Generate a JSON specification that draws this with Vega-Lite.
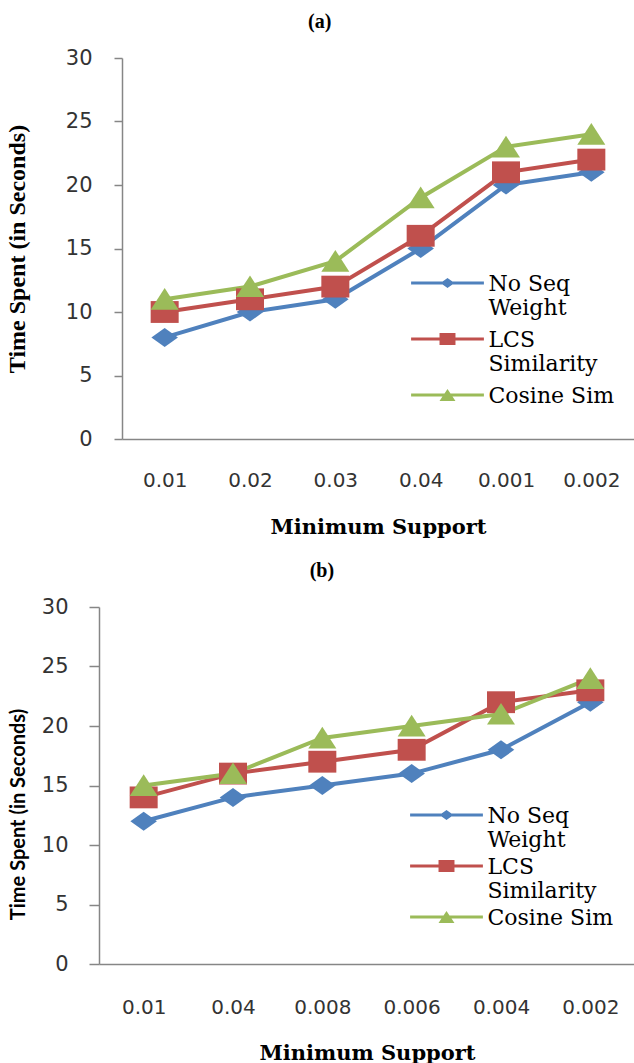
{
  "$schema": "https://vega.github.io/schema/vega-lite/v6.json",
  "padding": {"left": 4, "top": 12, "right": 0, "bottom": 0},
  "background": "white",
  "spacing": 24,
  "config": {
    "view": {"stroke": null},
    "axis": {"grid": false, "domainColor": "#868686", "tickColor": "#868686", "domainWidth": 1.5, "tickWidth": 1.5, "labelColor": "#333333", "titleColor": "#000000"},
    "title": {"font": "Liberation Serif", "fontSize": 20, "fontWeight": "bold", "color": "#000000", "anchor": "middle", "frame": "bounds"}
  },
  "vconcat": [
    {"spacing": 0, "hconcat": [
    {"width": 1, "height": 1, "data": {"values": []}, "mark": {"type": "point", "opacity": 0}, "encoding": {}},
    {
      "title": {"text": "(a)", "offset": 15, "frame": "bounds"},
      "width": 512,
      "height": 381,
      "data": {"values": [
        {"ms": "0.01", "s": "No Seq Weight", "t": 8},
        {"ms": "0.02", "s": "No Seq Weight", "t": 10},
        {"ms": "0.03", "s": "No Seq Weight", "t": 11},
        {"ms": "0.04", "s": "No Seq Weight", "t": 15},
        {"ms": "0.001", "s": "No Seq Weight", "t": 20},
        {"ms": "0.002", "s": "No Seq Weight", "t": 21},
        {"ms": "0.01", "s": "LCS Similarity", "t": 10},
        {"ms": "0.02", "s": "LCS Similarity", "t": 11},
        {"ms": "0.03", "s": "LCS Similarity", "t": 12},
        {"ms": "0.04", "s": "LCS Similarity", "t": 16},
        {"ms": "0.001", "s": "LCS Similarity", "t": 21},
        {"ms": "0.002", "s": "LCS Similarity", "t": 22},
        {"ms": "0.01", "s": "Cosine Sim", "t": 11},
        {"ms": "0.02", "s": "Cosine Sim", "t": 12},
        {"ms": "0.03", "s": "Cosine Sim", "t": 14},
        {"ms": "0.04", "s": "Cosine Sim", "t": 19},
        {"ms": "0.001", "s": "Cosine Sim", "t": 23},
        {"ms": "0.002", "s": "Cosine Sim", "t": 24}
      ]},
      "encoding": {
        "x": {"field": "ms", "type": "nominal",
              "scale": {"type": "point", "padding": 0.5, "domain": ["0.01", "0.02", "0.03", "0.04", "0.001", "0.002"]},
              "axis": {"title": "Minimum Support", "labelAngle": 0, "ticks": false, "labelPadding": 31, "labelFont": "DejaVu Sans", "labelFontSize": 20, "titleFont": "DejaVu Serif", "titleFontSize": 21, "titleFontWeight": "bold", "titlePadding": 26}},
        "y": {"field": "t", "type": "quantitative",
              "scale": {"domain": [0, 30], "nice": false},
              "axis": {"title": "Time Spent (in Seconds)", "values": [0, 5, 10, 15, 20, 25, 30], "tickSize": 8, "labelPadding": 22, "labelFont": "DejaVu Sans", "labelFontSize": 21, "titleFont": "Liberation Serif", "titleFontSize": 24, "titleFontWeight": "bold", "titlePadding": 36}}
      },
      "resolve": {"scale": {"color": "independent", "shape": "independent"}},
      "layer": [
        {
          "mark": {"type": "line", "strokeWidth": 4},
          "encoding": {
            "color": {"field": "s", "type": "nominal", "legend": null,
                      "scale": {"domain": ["No Seq Weight", "LCS Similarity", "Cosine Sim"], "range": ["#4F81BD", "#C0504D", "#9BBB59"]}}
          }
        },
        {
          "mark": {"type": "point", "filled": true, "opacity": 1, "size": 784},
          "encoding": {
            "color": {"field": "s", "type": "nominal", "legend": null,
                      "scale": {"domain": ["No Seq Weight", "LCS Similarity", "Cosine Sim"], "range": ["#4F81BD", "#C0504D", "#9BBB59"]}},
            "shape": {"field": "s", "type": "nominal", "legend": null,
                      "scale": {"domain": ["No Seq Weight", "LCS Similarity", "Cosine Sim"],
                                "range": ["M-0.95,0L0,-0.68L0.95,0L0,0.68Z", "M-1,-0.78H1V0.78H-1Z", "M0,-0.8L1,0.75L-1,0.75Z"]}}
          }
        },
        {
          "transform": [{"filter": "datum.t > 100"}],
          "mark": {"type": "point", "filled": true, "opacity": 1, "size": 784},
          "encoding": {
            "color": {"field": "s", "type": "nominal",
                      "scale": {"domain": ["No Seq Weight", "LCS Similarity", "Cosine Sim"], "range": ["#4F81BD", "#C0504D", "#9BBB59"]},
                      "legend": {"title": null, "orient": "none", "legendX": 288, "legendY": 218, "padding": 0,
                                 "symbolSize": 784, "symbolOffset": 22.5, "labelOffset": 26, "rowPadding": 10,
                                 "labelFont": "DejaVu Serif", "labelFontSize": 22, "labelColor": "#000000", "labelLimit": 300,
                                 "labelBaseline": "alphabetic",
                                 "labelExpr": "datum.label == 'No Seq Weight' ? ['No Seq', 'Weight'] : datum.label == 'LCS Similarity' ? ['LCS', 'Similarity'] : datum.label"}},
            "shape": {"field": "s", "type": "nominal",
                      "scale": {"domain": ["No Seq Weight", "LCS Similarity", "Cosine Sim"],
                                "range": ["M-2.6,-0.68H2.6V-0.46H-2.6Z M0,-0.93L0.5,-0.57L0,-0.21L-0.5,-0.57Z", "M-2.6,-0.68H2.6V-0.46H-2.6Z M-0.57,-1H0.57V-0.14H-0.57Z", "M-2.6,-0.68H2.6V-0.46H-2.6Z M0,-1L0.57,-0.14L-0.57,-0.14Z"]},
                      "legend": {"title": null, "orient": "none", "legendX": 288, "legendY": 218, "padding": 0,
                                 "symbolSize": 784, "symbolOffset": 22.5, "labelOffset": 26, "rowPadding": 10,
                                 "labelFont": "DejaVu Serif", "labelFontSize": 22, "labelColor": "#000000", "labelLimit": 300,
                                 "labelBaseline": "alphabetic",
                                 "labelExpr": "datum.label == 'No Seq Weight' ? ['No Seq', 'Weight'] : datum.label == 'LCS Similarity' ? ['LCS', 'Similarity'] : datum.label"}}
          }
        }
      ]
    }
    ]},
    {"spacing": 0, "hconcat": [
    {"width": 4, "height": 1, "data": {"values": []}, "mark": {"type": "point", "opacity": 0}, "encoding": {}},
    {
      "title": {"text": "(b)", "offset": 15, "frame": "bounds"},
      "width": 536,
      "height": 357,
      "data": {"values": [
        {"ms": "0.01", "s": "No Seq Weight", "t": 12},
        {"ms": "0.04", "s": "No Seq Weight", "t": 14},
        {"ms": "0.008", "s": "No Seq Weight", "t": 15},
        {"ms": "0.006", "s": "No Seq Weight", "t": 16},
        {"ms": "0.004", "s": "No Seq Weight", "t": 18},
        {"ms": "0.002", "s": "No Seq Weight", "t": 22},
        {"ms": "0.01", "s": "LCS Similarity", "t": 14},
        {"ms": "0.04", "s": "LCS Similarity", "t": 16},
        {"ms": "0.008", "s": "LCS Similarity", "t": 17},
        {"ms": "0.006", "s": "LCS Similarity", "t": 18},
        {"ms": "0.004", "s": "LCS Similarity", "t": 22},
        {"ms": "0.002", "s": "LCS Similarity", "t": 23},
        {"ms": "0.01", "s": "Cosine Sim", "t": 15},
        {"ms": "0.04", "s": "Cosine Sim", "t": 16},
        {"ms": "0.008", "s": "Cosine Sim", "t": 19},
        {"ms": "0.006", "s": "Cosine Sim", "t": 20},
        {"ms": "0.004", "s": "Cosine Sim", "t": 21},
        {"ms": "0.002", "s": "Cosine Sim", "t": 24}
      ]},
      "encoding": {
        "x": {"field": "ms", "type": "nominal",
              "scale": {"type": "point", "padding": 0.5, "domain": ["0.01", "0.04", "0.008", "0.006", "0.004", "0.002"]},
              "axis": {"title": "Minimum Support", "labelAngle": 0, "ticks": false, "labelPadding": 33, "labelFont": "DejaVu Sans", "labelFontSize": 20, "titleFont": "DejaVu Serif", "titleFontSize": 21, "titleFontWeight": "bold", "titlePadding": 25}},
        "y": {"field": "t", "type": "quantitative",
              "scale": {"domain": [0, 30], "nice": false},
              "axis": {"title": "Time Spent (in Seconds)", "values": [0, 5, 10, 15, 20, 25, 30], "tickSize": 10, "labelPadding": 21, "labelFont": "DejaVu Sans", "labelFontSize": 21, "titleFont": "Lato", "titleFontSize": 20, "titleFontWeight": "bold", "titlePadding": 12.5, "titleY": 207}}
      },
      "resolve": {"scale": {"color": "independent", "shape": "independent"}},
      "layer": [
        {
          "mark": {"type": "line", "strokeWidth": 4},
          "encoding": {
            "color": {"field": "s", "type": "nominal", "legend": null,
                      "scale": {"domain": ["No Seq Weight", "LCS Similarity", "Cosine Sim"], "range": ["#4F81BD", "#C0504D", "#9BBB59"]}}
          }
        },
        {
          "mark": {"type": "point", "filled": true, "opacity": 1, "size": 784},
          "encoding": {
            "color": {"field": "s", "type": "nominal", "legend": null,
                      "scale": {"domain": ["No Seq Weight", "LCS Similarity", "Cosine Sim"], "range": ["#4F81BD", "#C0504D", "#9BBB59"]}},
            "shape": {"field": "s", "type": "nominal", "legend": null,
                      "scale": {"domain": ["No Seq Weight", "LCS Similarity", "Cosine Sim"],
                                "range": ["M-0.95,0L0,-0.68L0.95,0L0,0.68Z", "M-1,-0.78H1V0.78H-1Z", "M0,-0.8L1,0.75L-1,0.75Z"]}}
          }
        },
        {
          "transform": [{"filter": "datum.t > 100"}],
          "mark": {"type": "point", "filled": true, "opacity": 1, "size": 784},
          "encoding": {
            "color": {"field": "s", "type": "nominal",
                      "scale": {"domain": ["No Seq Weight", "LCS Similarity", "Cosine Sim"], "range": ["#4F81BD", "#C0504D", "#9BBB59"]},
                      "legend": {"title": null, "orient": "none", "legendX": 310, "legendY": 201, "padding": 0,
                                 "symbolSize": 784, "symbolOffset": 22.5, "labelOffset": 26, "rowPadding": 5,
                                 "labelFont": "DejaVu Serif", "labelFontSize": 22, "labelColor": "#000000", "labelLimit": 300,
                                 "labelBaseline": "alphabetic",
                                 "labelExpr": "datum.label == 'No Seq Weight' ? ['No Seq', 'Weight'] : datum.label == 'LCS Similarity' ? ['LCS', 'Similarity'] : datum.label"}},
            "shape": {"field": "s", "type": "nominal",
                      "scale": {"domain": ["No Seq Weight", "LCS Similarity", "Cosine Sim"],
                                "range": ["M-2.6,-0.68H2.6V-0.46H-2.6Z M0,-0.93L0.5,-0.57L0,-0.21L-0.5,-0.57Z", "M-2.6,-0.68H2.6V-0.46H-2.6Z M-0.57,-1H0.57V-0.14H-0.57Z", "M-2.6,-0.68H2.6V-0.46H-2.6Z M0,-1L0.57,-0.14L-0.57,-0.14Z"]},
                      "legend": {"title": null, "orient": "none", "legendX": 310, "legendY": 201, "padding": 0,
                                 "symbolSize": 784, "symbolOffset": 22.5, "labelOffset": 26, "rowPadding": 5,
                                 "labelFont": "DejaVu Serif", "labelFontSize": 22, "labelColor": "#000000", "labelLimit": 300,
                                 "labelBaseline": "alphabetic",
                                 "labelExpr": "datum.label == 'No Seq Weight' ? ['No Seq', 'Weight'] : datum.label == 'LCS Similarity' ? ['LCS', 'Similarity'] : datum.label"}}
          }
        }
      ]
    }
    ]}
  ]
}
